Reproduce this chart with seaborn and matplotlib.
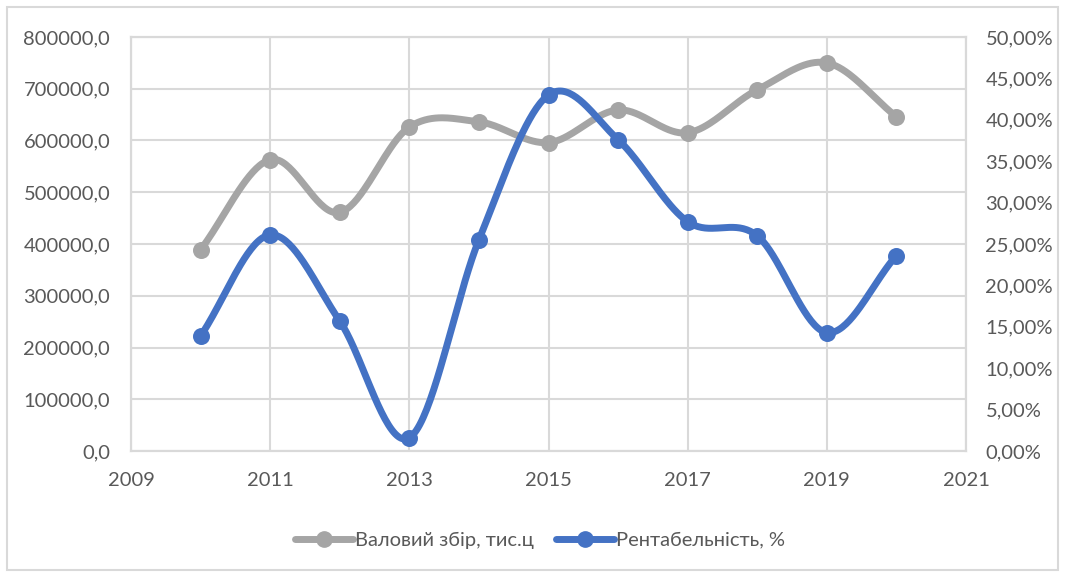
import numpy as np
import pandas as pd
import matplotlib
matplotlib.use("Agg")
import matplotlib.pyplot as plt
from matplotlib.patches import Rectangle
from matplotlib.lines import Line2D
import seaborn as sns

years = [2010, 2011, 2012, 2013, 2014, 2015, 2016, 2017, 2018, 2019, 2020]
gross_yield = [389000, 563000, 461000, 626000, 636000, 596000, 659000, 615000, 698000, 750000, 646000]
profitability = [13.9, 26.1, 15.7, 1.6, 25.5, 43.0, 37.6, 27.7, 26.0, 14.3, 23.6]

label_gross = "Валовий збір, тис.ц"
label_profit = "Рентабельність, %"

GRAY = "#A5A5A5"
BLUE = "#4472C4"
GRID = "#D9D9D9"
TEXT = "#595959"
FONT_SIZE = 14.5

sns.set_theme(style="white")
plt.rcParams["font.family"] = ["Lato", "DejaVu Sans"]


def smooth(x, y, n=40):
    """Catmull-Rom spline through the points (like a spreadsheet's smoothed line)."""
    x = np.asarray(x, float)
    y = np.asarray(y, float)
    px = np.concatenate([[2 * x[0] - x[1]], x, [2 * x[-1] - x[-2]]])
    py = np.concatenate([[2 * y[0] - y[1]], y, [2 * y[-1] - y[-2]]])
    xs, ys = [], []
    t = np.linspace(0, 1, n, endpoint=False)
    for i in range(1, len(px) - 2):
        p0, p1, p2, p3 = (np.array([px[j], py[j]]) for j in (i - 1, i, i + 1, i + 2))
        c1 = p1 + (p2 - p0) / 6
        c2 = p2 - (p3 - p1) / 6
        b = ((1 - t) ** 3)[:, None] * p1 + (3 * (1 - t) ** 2 * t)[:, None] * c1 \
            + (3 * (1 - t) * t ** 2)[:, None] * c2 + (t ** 3)[:, None] * p2
        xs.append(b[:, 0])
        ys.append(b[:, 1])
    xs.append([x[-1]])
    ys.append([y[-1]])
    return np.concatenate(xs), np.concatenate(ys)


df = pd.DataFrame({"year": years, "gross": gross_yield, "profit": profitability})

fig = plt.figure(figsize=(10.65, 5.72), dpi=100)
ax = fig.add_axes([131 / 1065, 1 - 451 / 572, (966 - 131) / 1065, (451 - 37) / 572])
ax2 = ax.twinx()

# outer chart frame
fig.patches.append(Rectangle((7 / 1065, 2 / 572), 1051 / 1065, 563 / 572,
                             transform=fig.transFigure, fill=False,
                             edgecolor=GRID, linewidth=1.5))

LW = 5
MS = 150

# gross yield on the left axis
sx, sy = smooth(df["year"], df["gross"])
ax.plot(sx, sy, color=GRAY, linewidth=LW, solid_capstyle="round", zorder=3)
sns.scatterplot(data=df, x="year", y="gross", ax=ax, color=GRAY, s=MS,
                edgecolor=GRAY, linewidth=0, zorder=4, legend=False)

# profitability on the right axis
sx2, sy2 = smooth(df["year"], df["profit"])
ax2.plot(sx2, sy2, color=BLUE, linewidth=LW, solid_capstyle="round", zorder=3)
sns.scatterplot(data=df, x="year", y="profit", ax=ax2, color=BLUE, s=MS,
                edgecolor=BLUE, linewidth=0, zorder=4, legend=False)

ax.set_xlim(2009, 2021)
ax.set_ylim(0, 800000)
ax2.set_ylim(0, 50)
ax.set_xticks(range(2009, 2022, 2))
ax.set_yticks(range(0, 800001, 100000))
ax2.set_yticks(range(0, 51, 5))
ax.set_yticklabels([f"{v},0" for v in range(0, 800001, 100000)])
ax2.set_yticklabels([f"{v},00%" for v in range(0, 51, 5)])

for a in (ax, ax2):
    a.set_xlabel("")
    a.set_ylabel("")
    a.tick_params(length=0, labelsize=FONT_SIZE, labelcolor=TEXT)
    for s in a.spines.values():
        s.set_color(GRID)
        s.set_linewidth(1.5)
ax.tick_params(axis="y", pad=15)
ax.tick_params(axis="x", pad=15)
ax2.tick_params(axis="y", pad=14)

ax.grid(True, color=GRID, linewidth=1.5)
ax.set_axisbelow(True)
ax.set_zorder(0)
ax2.set_zorder(1)
ax2.patch.set_visible(False)

handles = [
    Line2D([0], [0], color=GRAY, linewidth=LW, marker="o", markersize=11),
    Line2D([0], [0], color=BLUE, linewidth=LW, marker="o", markersize=11),
]
fig.legend(handles, [label_gross, label_profit], loc="center",
           bbox_to_anchor=(540 / 1065, 1 - 540 / 572), ncol=2, frameon=False,
           fontsize=FONT_SIZE, labelcolor=TEXT, handlelength=2.9, handletextpad=0.1,
           columnspacing=1.1)

fig.savefig("out.png", dpi=100, facecolor="white")
